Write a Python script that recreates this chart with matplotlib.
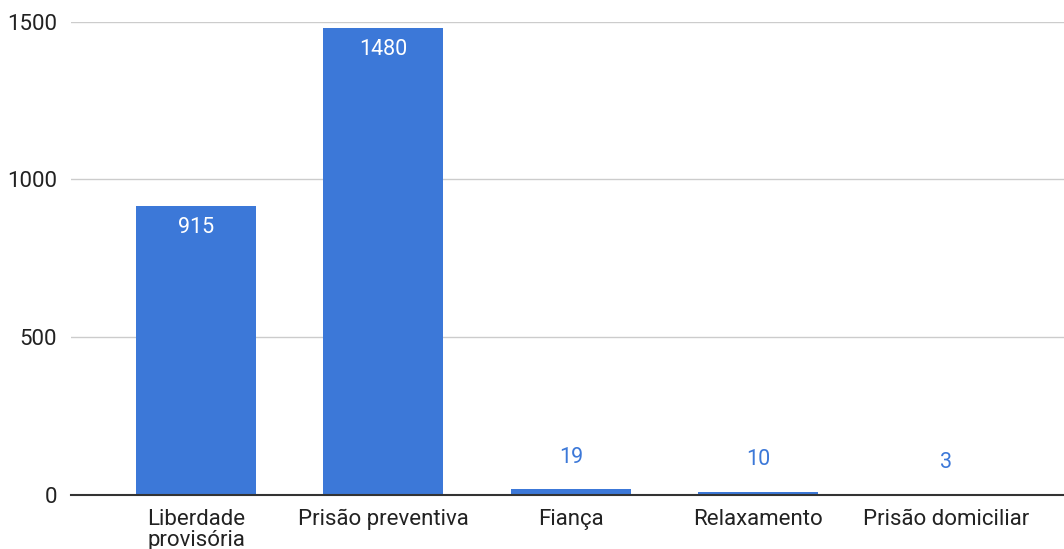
import matplotlib.pyplot as plt

plt.rcParams['font.family'] = ['Roboto', 'DejaVu Sans']

categories = ["Liberdade\nprovisória", "Prisão preventiva", "Fiança", "Relaxamento", "Prisão domiciliar"]
values = [915, 1480, 19, 10, 3]

bar_color = "#3c78d8"

fig = plt.figure(figsize=(10.64, 5.49), dpi=100)
ax = fig.add_axes([0.0667, 0.0984, 0.9333, 0.862])

x = range(len(categories))
bars = ax.bar(x, values, width=0.64, color=bar_color, zorder=3)

# big bars get the value inside in white, small ones get it above in blue
for rect, v in zip(bars, values):
    cx = rect.get_x() + rect.get_width() / 2
    if v > 200:
        ax.annotate(str(v), (cx, v), xytext=(0, -15.5), textcoords="offset points",
                    ha="center", va="center", color="white", fontsize=15.5, zorder=4)
    else:
        ax.annotate(str(v), (cx, v), xytext=(0, 23), textcoords="offset points",
                    ha="center", va="center", color=bar_color, fontsize=15.5, zorder=4)

ax.set_ylim(0, 1500)
ax.set_xlim(-0.667, 4.63)
ax.set_yticks([0, 500, 1000, 1500])
ax.set_xticks(list(x))
ax.set_xticklabels(categories, linespacing=1.0)

ax.grid(axis="y", color="#cccccc", linewidth=1, zorder=0)
ax.tick_params(axis="both", length=0, labelsize=16, colors="#222222")
ax.tick_params(axis="y", pad=10)
ax.tick_params(axis="x", pad=10)

for side in ["top", "right", "left"]:
    ax.spines[side].set_visible(False)
ax.spines["bottom"].set_color("#333333")
ax.spines["bottom"].set_linewidth(1.5)
ax.spines["bottom"].set_zorder(5)

fig.savefig("out.png", dpi=100)
